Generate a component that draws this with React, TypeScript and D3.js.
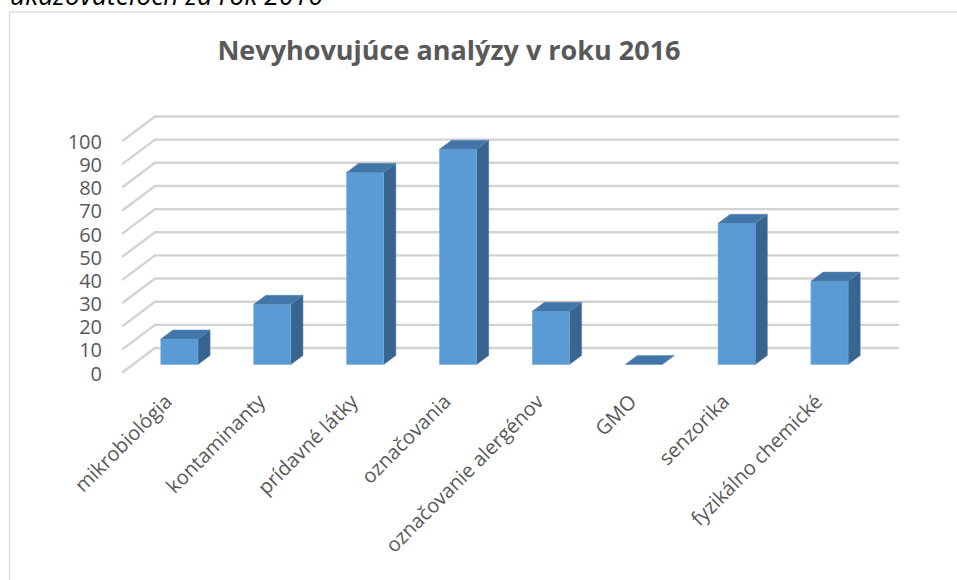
import React from "react";
import * as d3 from "d3";

const categories = [
  "mikrobiológia",
  "kontaminanty",
  "prídavné látky",
  "označovania",
  "označovanie alergénov",
  "GMO",
  "senzorika",
  "fyzikálno chemické",
];
const values = [11, 26, 83, 93, 23, 0, 61, 36];
const yTicks = [0, 10, 20, 30, 40, 50, 60, 70, 80, 90, 100];
const title = "Nevyhovujúce analýzy v roku 2016";
const topText = "ukazovateľoch za rok 2016";

const W = 957;
const H = 580;
const DX = 32;
const DY = -24;
const F0 = 0.31;
const F1 = 0.69;

export default function App() {
  const x = d3.scaleBand<string>().domain(categories).range([123, 866]).padding(0);
  const y = d3.scaleLinear().domain([0, 100]).range([372, 140.5]);
  const bw = x.bandwidth() * 0.4;
  const font = "'Open Sans', 'Noto Sans', sans-serif";
  const txt = "#595959";

  return (
    <svg
      width={W}
      height={H}
      style={{ position: "absolute", left: 0, top: 0, background: "#fff" }}
    >
      <rect x={0} y={0} width={W} height={H} fill="#fff" />
      <text
        x={10}
        y={5}
        fontFamily={font}
        fontStyle="italic"
        fontSize={26.5}
        fill="#000"
      >
        {topText}
      </text>
      <rect x={9.5} y={12} width={1000} height={700} fill="none" stroke="#d9d9d9" strokeWidth={1.3} />
      <text
        x={449}
        y={60}
        textAnchor="middle"
        fontFamily={font}
        fontWeight="bold"
        fontSize={27}
        fill={txt}
      >
        {title}
      </text>

      {/* gridlines */}
      <g fill="none" stroke="#d3d3d3" strokeWidth={2.4} strokeLinecap="round">
        {yTicks.map((t) => {
          const yf = y(t);
          const x0 = x.range()[0];
          const x1 = x.range()[1];
          return (
            <g key={t}>
              <line x1={x0} y1={yf} x2={x0 + DX} y2={yf + DY} />
              <line x1={x0 + DX} y1={yf + DY} x2={x1 + DX} y2={yf + DY} />
            </g>
          );
        })}
      </g>

      {/* y labels */}
      {yTicks.map((t) => (
        <text
          key={t}
          x={102}
          y={y(t) + 1}
          textAnchor="end"
          dominantBaseline="central"
          fontFamily={font}
          fontSize={20}
          fill={txt}
        >
          {t}
        </text>
      ))}

      {/* bars */}
      {categories.map((c, i) => {
        const v = values[i];
        const x0 = (x(c) as number) + (x.bandwidth() - bw) / 2;
        const yt = y(v);
        const yb = y(0);
        const fx0 = x0 + F0 * DX;
        const fx1 = x0 + bw + F0 * DX;
        const bx0 = x0 + F1 * DX;
        const bx1 = x0 + bw + F1 * DX;
        const fy = F0 * DY;
        const by = F1 * DY;
        const top = [
          [fx0, yt + fy],
          [fx1, yt + fy],
          [bx1, yt + by],
          [bx0, yt + by],
        ];
        const side = [
          [fx1, yt + fy],
          [bx1, yt + by],
          [bx1, yb + by],
          [fx1, yb + fy],
        ];
        const pts = (p: number[][]) => p.map((q) => q.join(",")).join(" ");
        return (
          <g key={c}>
            {v > 0 && (
              <polygon points={pts(side)} fill="#386590" stroke="#4a78a6" strokeWidth={0.5} />
            )}
            {v > 0 && (
              <rect
                x={fx0}
                y={yt + fy}
                width={bw}
                height={yb - yt}
                fill="#5b9bd5"
                stroke="#7aaedd"
                strokeWidth={0.5}
              />
            )}
            <polygon points={pts(top)} fill="#4376a8" stroke="#5586b8" strokeWidth={0.5} />
          </g>
        );
      })}

      {/* category labels */}
      {categories.map((c) => {
        const cx = (x(c) as number) + x.bandwidth() / 2;
        return (
          <text
            key={c}
            transform={`translate(${cx + 4},403) rotate(-45)`}
            textAnchor="end"
            fontFamily={font}
            fontSize={20}
            fill={txt}
          >
            {c}
          </text>
        );
      })}
    </svg>
  );
}
